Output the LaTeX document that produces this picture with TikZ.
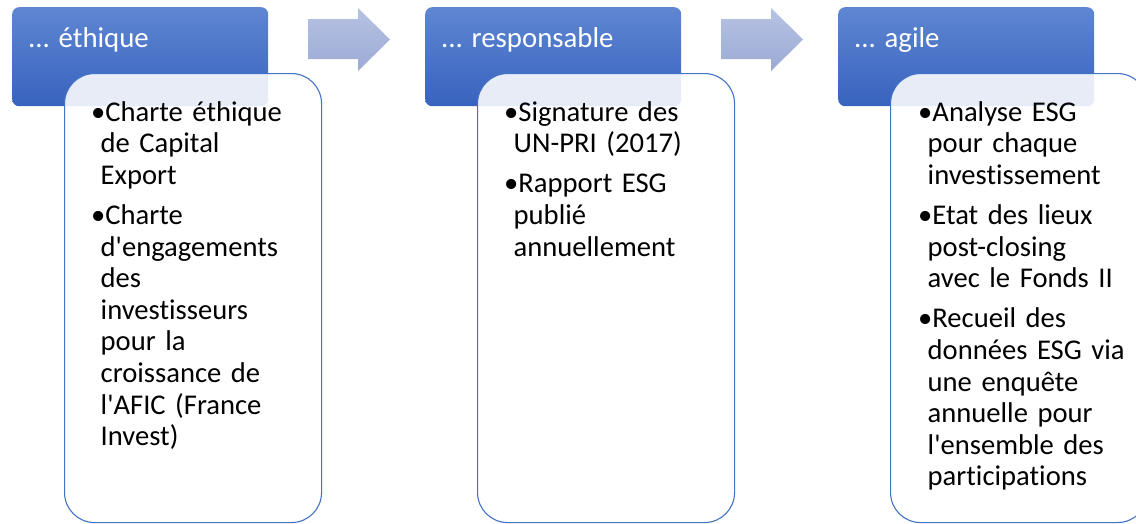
\documentclass[tikz,border=0pt]{standalone}
\usepackage{fontspec}
\setmainfont{Carlito}[Ligatures={TeX,NoCommon}]
\usetikzlibrary{positioning}

\definecolor{hdtop}{HTML}{5E86D2}
\definecolor{hdbot}{HTML}{3863BE}
\definecolor{boxline}{HTML}{4472C4}
\definecolor{arrtop}{HTML}{B6C3E4}
\definecolor{arrbot}{HTML}{9CAAD4}

\newcommand{\boxpars}{\setlength{\parindent}{0pt}\setlength{\parskip}{8.5pt}}
\newcommand{\itemline}{\hangindent=9.5pt\hangafter=1\rule{0pt}{24pt}\textbullet}

\begin{document}
\begin{tikzpicture}[x=1pt,y=-1pt,
    hnode/.style={rounded corners=7pt, top color=hdtop, bottom color=hdbot, minimum width=256pt, minimum height=99pt, inner sep=0pt, anchor=north west},
    cnode/.style={draw=boxline, line width=1.1pt, fill=white, fill opacity=0.88, rounded corners=30pt, minimum width=257pt, minimum height=449pt, inner sep=0pt, anchor=north west},
    htext/.style={text=white, font=\fontsize{28.8}{32}\selectfont, inner sep=0pt, anchor=base west},
    ctext/.style={font=\fontsize{28.6}{31.6}\selectfont, text width=240pt, align=left, inner sep=0pt, anchor=north west},
    blockarrow/.style={top color=arrtop, bottom color=arrbot}]
    \clip (0,0) rectangle (1136,523);

    \foreach \dx in {0,413}
        \path[blockarrow, shift={(\dx,0)}] (308,19) -- (358,19) -- (358,8) -- (390,39.5) -- (358,71) -- (358,59) -- (308,59) -- cycle;

    \node[hnode] (h1) at (12,7) {};
    \node[hnode] (h2) at (425,7) {};
    \node[hnode] (h3) at (838,7) {};

    \node[cnode] (c1) at (64,73) {};
    \node[cnode] (c2) at (477,73) {};
    \node[cnode] (c3) at (890,73) {};

    \node[htext] (h1t) at (28,47) {... éthique};
    \node[htext] (h2t) at (441,47) {... responsable};
    \node[htext] (h3t) at (854,47) {... agile};

    \node[ctext] (c1t) at (91,97) {\boxpars
        \itemline Charte éthique\newline de Capital\newline Export\par
        \itemline Charte\newline d\textquotesingle engagements\newline des\newline investisseurs\newline pour la\newline croissance de\newline l\textquotesingle AFIC (France\newline Invest)\par};
    \node[ctext] (c2t) at (504,97) {\boxpars
        \itemline Signature des\newline UN-PRI (2017)\par
        \itemline Rapport ESG\newline publié\newline annuellement\par};
    \node[ctext] (c3t) at (918,97) {\boxpars
        \itemline Analyse ESG\newline pour chaque\newline investissement\par
        \itemline Etat des lieux\newline post-closing\newline avec le Fonds II\par
        \itemline Recueil des\newline données ESG via\newline une enquête\newline annuelle pour\newline l\textquotesingle ensemble des\newline participations\par};
\end{tikzpicture}
\end{document}
